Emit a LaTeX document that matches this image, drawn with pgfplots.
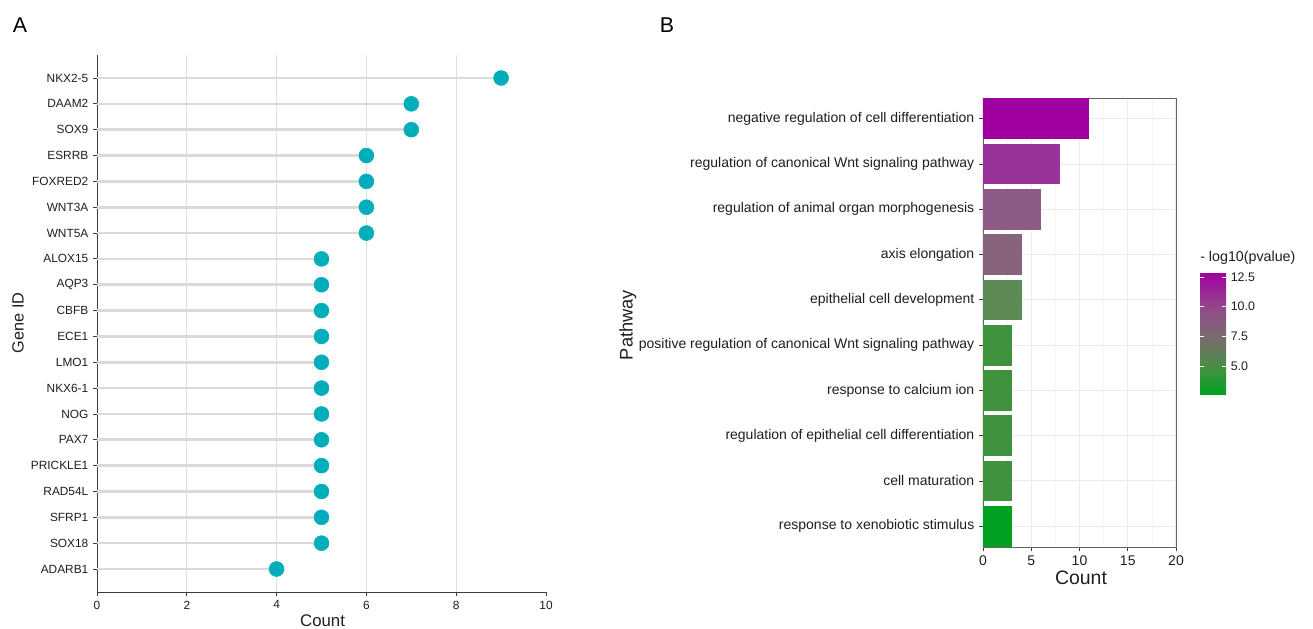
\documentclass[border=0pt]{standalone}
\usepackage{pgfplots}
\pgfplotsset{compat=1.18}
\usepackage{fontspec}
\setmainfont{Liberation Sans}
\definecolor{dotc}{RGB}{0,173,187}
\definecolor{stemc}{RGB}{218,218,218}
\definecolor{gridA}{RGB}{224,224,224}
\definecolor{gridB}{RGB}{235,235,235}
\definecolor{gridBm}{RGB}{245,245,245}
\definecolor{axisc}{RGB}{60,60,60}
\definecolor{txtc}{RGB}{30,30,30}
\definecolor{b1}{RGB}{160,0,160}
\definecolor{b2}{RGB}{154,51,153}
\definecolor{b3}{RGB}{142,90,134}
\definecolor{b4}{RGB}{136,99,124}
\definecolor{b5}{RGB}{94,138,85}
\definecolor{b6}{RGB}{63,147,63}
\definecolor{b10}{RGB}{0,160,32}
\pgfplotstableread{
y x
1 9
2 7
3 7
4 6
5 6
6 6
7 6
8 5
9 5
10 5
11 5
12 5
13 5
14 5
15 5
16 5
17 5
18 5
19 5
20 4
}\genes
\begin{document}
\begin{tikzpicture}
\path[use as bounding box] (0,0) rectangle (984.75pt,471pt);
% ---------------- Panel A ----------------
\begin{axis}[
  at={(72.75pt,27pt)}, anchor=south west, scale only axis,
  width=336.75pt, height=402.75pt,
  xmin=0, xmax=10, ymin=0.11, ymax=20.89, y dir=reverse,
  axis x line*=bottom, axis y line*=left,
  axis line style={axisc, line width=0.7pt},
  xtick={0,2,4,6,8,10},
  ytick={1,...,20},
  yticklabels={NKX2-5,DAAM2,SOX9,ESRRB,FOXRED2,WNT3A,WNT5A,ALOX15,AQP3,CBFB,ECE1,LMO1,NKX6-1,NOG,PAX7,PRICKLE1,RAD54L,SFRP1,SOX18,ADARB1},
  tick align=outside, major tick length=3pt,
  tick style={axisc, line width=0.6pt},
  tick label style={font=\fontsize{8.9}{10}\selectfont, text=txtc},
  /pgf/number format/assume math mode=true,
  clip=false,
]
\foreach \g in {2,4,6,8} {
  \edef\tmp{\noexpand\draw[gridA, line width=0.8pt] (axis cs:\g,0.11) -- (axis cs:\g,20.89);}
  \tmp
}
\addplot[xcomb, stemc, line width=2pt] table[x=x,y=y] {\genes};
\addplot[only marks, mark=*, mark size=5.6pt, mark options={draw=dotc, fill=dotc}] table[x=x,y=y] {\genes};
\end{axis}
% ---------------- Panel B ----------------
\begin{axis}[
  at={(737.25pt,60.75pt)}, anchor=south west, scale only axis,
  width=144.75pt, height=336.75pt,
  xmin=0, xmax=20, ymin=0.54, ymax=10.46, y dir=reverse,
  xbar, bar width=0.9, bar shift=0pt,
  xtick={0,5,10,15,20}, minor xtick={2.5,7.5,12.5,17.5},
  ytick={1,...,10},
  yticklabels={negative regulation of cell differentiation,
    regulation of canonical Wnt signaling pathway,
    regulation of animal organ morphogenesis,
    axis elongation,
    epithelial cell development,
    positive regulation of canonical Wnt signaling pathway,
    response to calcium ion,
    regulation of epithelial cell differentiation,
    cell maturation,
    response to xenobiotic stimulus},
  xmajorgrids, xminorgrids, ymajorgrids,
  major grid style={gridB, line width=0.8pt},
  minor grid style={gridBm, line width=0.5pt},
  axis line style={axisc!80, line width=0.7pt},
  xtick pos=left, ytick pos=left,
  tick align=outside, major tick length=3pt, minor tick length=0pt,
  tick style={axisc, line width=0.6pt},
  xticklabel style={font=\fontsize{10.5}{12}\selectfont, text=txtc},
  yticklabel style={font=\fontsize{10.5}{12}\selectfont, text=txtc},
  /pgf/number format/assume math mode=true,
  colormap={gm}{rgb255(0cm)=(0,160,32) rgb255(2cm)=(63,147,63) rgb255(4cm)=(110,118,100) rgb255(5cm)=(124,104,114) rgb255(7cm)=(146,74,136) rgb255(10cm)=(160,0,160)},
  point meta min=2.56, point meta max=12.92,
  colorbar,
  colorbar/width=19.5pt,
  colorbar style={
    at={(parent axis.south east)}, anchor=south west, xshift=9.5pt, yshift=114pt,
    scale only axis, height=92.25pt,
    ytick={5,7.5,10,12.5}, yticklabels={5.0,7.5,10.0,12.5},
    ytick pos=both, yticklabel pos=right,
    tick align=inside, major tick length=3pt,
    tick style={white, line width=0.7pt},
    axis line style={draw=none},
    yticklabel style={font=\fontsize{9.3}{10}\selectfont, text=txtc},
  },
]
\addplot[fill=b1, draw=none] coordinates {(11,1)};
\addplot[fill=b2, draw=none] coordinates {(8,2)};
\addplot[fill=b3, draw=none] coordinates {(6,3)};
\addplot[fill=b4, draw=none] coordinates {(4,4)};
\addplot[fill=b5, draw=none] coordinates {(4,5)};
\addplot[fill=b6, draw=none] coordinates {(3,6)};
\addplot[fill=b6, draw=none] coordinates {(3,7)};
\addplot[fill=b6, draw=none] coordinates {(3,8)};
\addplot[fill=b6, draw=none] coordinates {(3,9)};
\addplot[fill=b10, draw=none] coordinates {(3,10)};
\end{axis}
% ---------------- Labels ----------------
\node[font=\fontsize{16}{18}\selectfont] at (15pt,452.25pt) {A};
\node[font=\fontsize{16}{18}\selectfont] at (500.25pt,452.25pt) {B};
\node[font=\fontsize{12.2}{14}\selectfont, rotate=90, text=txtc] at (13.5pt,228.75pt) {Gene ID};
\node[font=\fontsize{12.6}{14}\selectfont, text=txtc] at (241.9pt,5.5pt) {Count};
\node[font=\fontsize{14.6}{16}\selectfont, text=txtc] at (810.75pt,37.5pt) {Count};
\node[font=\fontsize{13.7}{16}\selectfont, rotate=90, text=txtc] at (471pt,227.25pt) {Pathway};
\node[font=\fontsize{10.7}{12}\selectfont, anchor=west, inner sep=0pt, text=txtc] at (900pt,277.5pt) {- log10(pvalue)};
\end{tikzpicture}
\end{document}
